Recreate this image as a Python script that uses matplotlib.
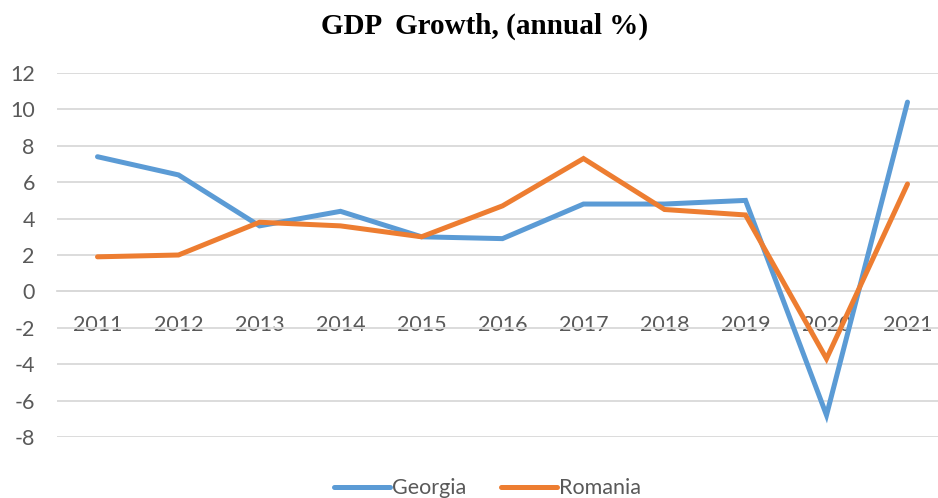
import matplotlib
matplotlib.use("Agg")
import matplotlib.pyplot as plt

years = ['2011', '2012', '2013', '2014', '2015', '2016', '2017', '2018', '2019', '2020', '2021']
georgia = [7.4, 6.4, 3.6, 4.4, 3.0, 2.9, 4.8, 4.8, 5.0, -6.8, 10.4]
romania = [1.9, 2.0, 3.8, 3.6, 3.0, 4.7, 7.3, 4.5, 4.2, -3.7, 5.9]
yticks = [-8, -6, -4, -2, 0, 2, 4, 6, 8, 10, 12]

plt.rcParams['font.family'] = ['Lato', 'DejaVu Sans']

fig = plt.figure(figsize=(9.38, 4.98), dpi=100)
# axes extends a bit past the right edge like the original
ax = fig.add_axes([57 / 938, 61 / 498, 891 / 938, 364 / 498])

x = list(range(len(years)))
ax.plot(x, georgia, color='#5B9BD5', lw=3.6, solid_capstyle='round',
        solid_joinstyle='miter', label='Georgia', zorder=3)
ax.plot(x, romania, color='#ED7D31', lw=3.6, solid_capstyle='round',
        solid_joinstyle='miter', label='Romania', zorder=3)

ax.set_xlim(-0.5, len(years) - 0.5)
ax.set_ylim(-8, 12)
ax.set_yticks(yticks)
ax.set_yticklabels([str(v) for v in yticks])
ax.grid(axis='y', color='#D9D9D9', lw=1.3, zorder=0)
ax.set_axisbelow(True)

for s in ['top', 'right', 'left']:
    ax.spines[s].set_visible(False)
ax.spines['bottom'].set_position(('data', 0))
ax.spines['bottom'].set_color('#D9D9D9')
ax.spines['bottom'].set_linewidth(1.3)

ax.set_xticks(x)
ax.set_xticklabels(years)
ax.tick_params(axis='x', length=0, pad=17, labelsize=15.5, labelcolor='#595959')
ax.tick_params(axis='y', length=0, pad=16, labelsize=15.5, labelcolor='#595959')
for lbl in ax.get_yticklabels():
    lbl.set_horizontalalignment('right')

fig.text(0.517, 0.948, 'GDP  Growth, (annual %)', ha='center', va='center',
         fontsize=21, fontweight='bold', family='Liberation Serif')

fig.legend(loc='center', bbox_to_anchor=(0.52, 0.02), ncol=2, frameon=False,
           fontsize=15.5, labelcolor='#595959', handlelength=2.6,
           handletextpad=0.1, columnspacing=1.6)

fig.savefig('out.png', dpi=100)
